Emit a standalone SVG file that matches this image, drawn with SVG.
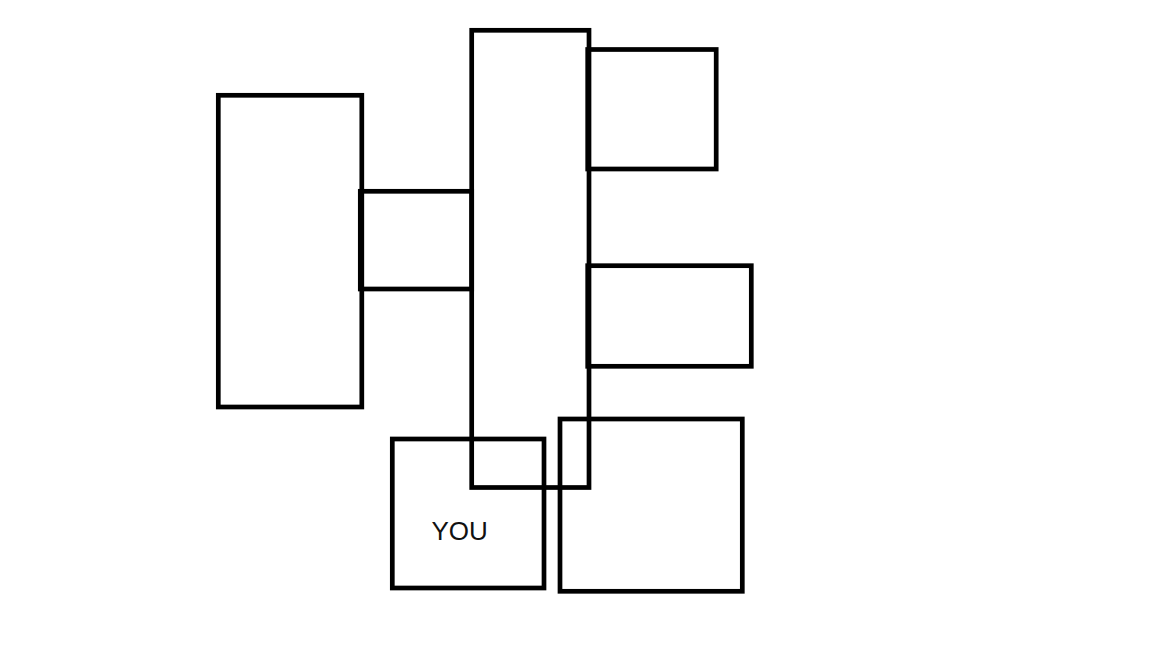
<svg xmlns="http://www.w3.org/2000/svg" width="1152" height="648" viewBox="0 0 1152 648">
<style>
.box{fill:none;stroke:#000;stroke-width:4.7}
.lbl{font-family:"Liberation Sans",Arial,sans-serif;font-size:26px;fill:#111}
</style>
<rect width="1152" height="648" fill="#fff"/>
<g id="node-left"><rect class="box" x="218.3" y="95.3" width="143.5" height="311.7"/></g>
<g id="node-link"><rect class="box" x="360.3" y="191.3" width="111.4" height="97.7"/></g>
<g id="node-center"><rect class="box" x="471.7" y="30.3" width="117.3" height="457.2"/></g>
<g id="node-topright"><rect class="box" x="587.7" y="49.5" width="128.5" height="119.5"/></g>
<g id="node-midright"><rect class="box" x="587.7" y="265.7" width="163.6" height="100.6"/></g>
<g id="node-you"><rect class="box" x="392.3" y="439" width="151.7" height="149"/><text class="lbl" x="431.5" y="539.5">YOU</text></g>
<g id="node-bottomright"><rect class="box" x="560" y="419" width="182.3" height="172.3"/></g>
<g id="connectors"></g>
</svg>
